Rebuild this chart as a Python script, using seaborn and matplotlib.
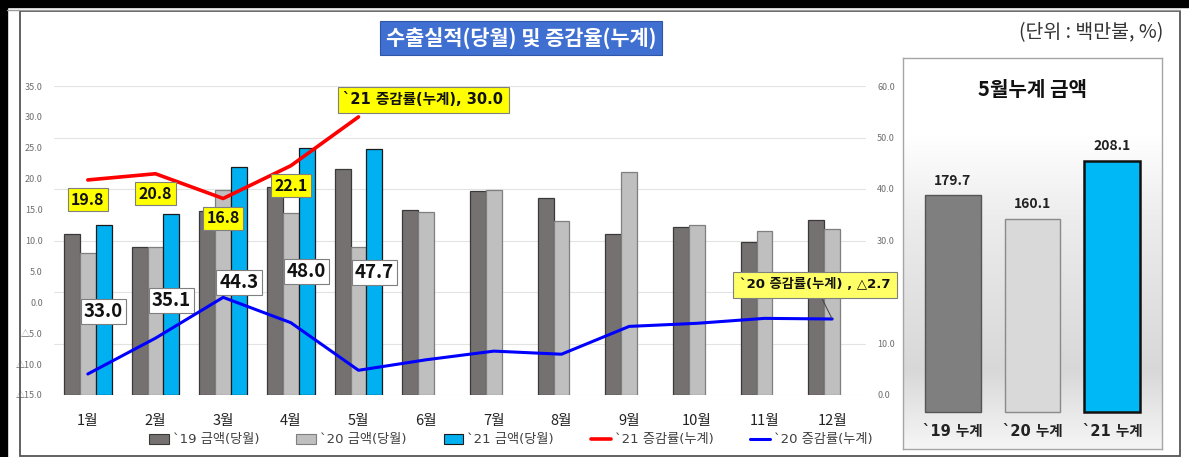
import numpy as np
import pandas as pd
import matplotlib
matplotlib.use("Agg")
import matplotlib.pyplot as plt
import seaborn as sns
from matplotlib.patches import Rectangle, Patch
from matplotlib.lines import Line2D
from matplotlib.colors import LinearSegmentedColormap

sns.set_style("white")
plt.rcParams['font.family'] = ['Noto Sans CJK KR', 'DejaVu Sans']
TICK_FONT = ['DejaVu Sans', 'Noto Sans CJK KR']   # narrow backtick for `19 / `20 / `21

# ---- data (백만불, %) ----
months = ['1월', '2월', '3월', '4월', '5월', '6월', '7월', '8월', '9월', '10월', '11월', '12월']
amt_19 = [31.2, 28.7, 35.7, 40.3, 43.8, 36.0, 39.7, 38.3, 31.3, 32.7, 29.8, 34.0]
amt_20 = [27.6, 28.7, 39.8, 35.3, 28.7, 35.6, 39.8, 33.7, 43.3, 33.1, 31.9, 32.3]
amt_21 = [33.0, 35.1, 44.3, 48.0, 47.7]
rate_21 = [19.8, 20.8, 16.8, 22.1, 30.0]
rate_20 = [-11.6, -5.8, 0.8, -3.3, -11.0, -9.3, -7.9, -8.4, -3.9, -3.4, -2.6, -2.7]

sum_labels = ['`19 누계', '`20 누계', '`21 누계']
sum_values = [179.7, 160.1, 208.1]

series = ['`19 금액(당월)', '`20 금액(당월)', '`21 금액(당월)']
bar_colors = ['#767171', '#BFBFBF', '#00B0F0']
bar_edges = ['#3A3A3A', '#7F7F7F', '#1A1A1A']

rows = []
for name, vals in zip(series, [amt_19, amt_20, amt_21]):
    for m, v in zip(months, vals):
        rows.append({'month': m, 'series': name, 'value': v})
df = pd.DataFrame(rows)

W, H = 1189, 457
fig = plt.figure(figsize=(W / 100, H / 100), dpi=100)

def fx(px):
    return px / W

def fy(py):
    return 1 - py / H

# ---- frame decorations ----
fig.patches.append(Rectangle((0, fy(7)), 1, 7 / H, transform=fig.transFigure, color='black', zorder=0))
fig.patches.append(Rectangle((0, 0), fx(7), 1, transform=fig.transFigure, color='black', zorder=0))
fig.lines.append(Line2D([fx(7), fx(1180)], [fy(9.5), fy(9.5)], transform=fig.transFigure, color='#9A9A9A', lw=1))
fig.patches.append(Rectangle((fx(20), fy(456)), fx(1160), 445 / H, transform=fig.transFigure,
                             fill=False, edgecolor='#555555', lw=1.3, zorder=1))

# ---- main chart: bars on the right axis, rates on the left ----
ax = fig.add_axes([fx(54), fy(395), fx(812), (395 - 86) / H])
axl = ax.twinx()
sns.barplot(data=df, x='month', y='value', hue='series', order=months, hue_order=series,
            palette=bar_colors, saturation=1, width=0.7, gap=0, errorbar=None, ax=ax, legend=False,
            linewidth=0.9, zorder=2)
for cont, ec in zip(ax.containers, bar_edges):
    for bar in cont:
        bar.set_edgecolor(ec)

ax.set_xlim(-0.5, 11.5)
ax.set_ylim(0, 60)
rt = np.arange(0, 61, 10)
ax.set_yticks(rt)
ax.set_yticklabels([f"{t:.1f}" for t in rt], fontsize=6.5, color='#6E6E6E')
ax.yaxis.tick_right()
ax.yaxis.set_label_position('right')
ax.grid(axis='y', color='#E3E3E3', lw=0.8, zorder=0)
ax.set_axisbelow(True)
ax.set_xlabel('')
ax.set_ylabel('')
ax.tick_params(axis='x', length=0, pad=14, labelsize=10.5, labelcolor='#222222')
ax.tick_params(axis='y', length=0, pad=8)
for s in ax.spines.values():
    s.set_visible(False)

# white value boxes for `21 monthly amounts
box_y = [16.3, 18.3, 21.9, 23.9, 23.7]
bars21 = ax.containers[2]
for bar, v, yy in zip(bars21, amt_21, box_y):
    ax.text(bar.get_x() + bar.get_width() / 2, yy, f"{v:.1f}", ha='center', va='center',
            fontsize=13.5, fontweight='bold', color='#111111', zorder=6,
            bbox=dict(boxstyle='square,pad=0.16', fc='white', ec='#7F7F7F', lw=0.8))

xpos = np.arange(len(months))
sns.lineplot(x=xpos[:len(rate_21)], y=rate_21, color='#FF0000', lw=2.6, ax=axl, zorder=4)
sns.lineplot(x=xpos, y=rate_20, color='#0000FF', lw=2.2, ax=axl, zorder=4)
axl.set_ylim(-15, 35)
axl.set_xlim(-0.5, 11.5)
lt = np.arange(-15, 36, 5)
axl.set_yticks(lt)
axl.set_yticklabels([f"△{abs(t):.1f}" if t < 0 else f"{t:.1f}" for t in lt],
                    fontsize=6.5, color='#6E6E6E')
axl.yaxis.tick_left()
axl.yaxis.set_label_position('left')
axl.tick_params(axis='y', length=0, pad=8)
axl.set_ylabel('')
for s in axl.spines.values():
    s.set_visible(False)

for x, v in zip(xpos[:4], rate_21[:4]):
    axl.annotate(f"{v:.1f}", (x, v), xytext=(0, -20), textcoords='offset pixels',
                 ha='center', va='center', fontsize=11.5, fontweight='bold', color='#111111', zorder=7,
                 bbox=dict(boxstyle='square,pad=0.22', fc='#FFFF00', ec='#7F7F7F', lw=0.8))

axl.annotate(f"`21 증감률(누계), {rate_21[-1]:.1f}", (xpos[len(rate_21) - 1], rate_21[-1]),
             xytext=(65, 17), textcoords='offset pixels', ha='center', va='center',
             fontsize=10.5, fontweight='bold', color='#111111', zorder=7, family=TICK_FONT,
             bbox=dict(boxstyle='square,pad=0.35', fc='#FFFF00', ec='#7F7F7F', lw=0.8))

axl.annotate(f"`20 증감률(누계) , △{abs(rate_20[-1]):.1f}", (xpos[-1], rate_20[-1]),
             xytext=(-17, 34), textcoords='offset pixels', ha='center', va='center',
             fontsize=9.5, fontweight='bold', color='#111111', zorder=7, family=TICK_FONT,
             bbox=dict(boxstyle='square,pad=0.5', fc='#FFFF66', ec='#7F7F7F', lw=0.8),
             arrowprops=dict(arrowstyle='-', color='#404040', lw=0.7, shrinkA=0, shrinkB=0))

# legend
handles = [Patch(fc=c, ec=e, lw=0.8) for c, e in zip(bar_colors, bar_edges)]
handles += [Line2D([], [], color='#FF0000', lw=2.6), Line2D([], [], color='#0000FF', lw=2.2)]
labels = series + ['`21 증감률(누계)', '`20 증감률(누계)']
fig.legend(handles, labels, loc='center', bbox_to_anchor=(fx(511), fy(440)), ncol=5,
           frameon=False, prop=dict(family=TICK_FONT, size=9.5), handlelength=1.5,
           handleheight=0.7, handletextpad=0.3, columnspacing=2.8, labelcolor='#404040')

# title & unit
fig.text(fx(521), fy(38), "수출실적(당월) 및 증감율(누계)", ha='center', va='center',
         fontsize=15, fontweight='bold', color='white',
         bbox=dict(boxstyle='square,pad=0.28', fc='#3F6FD0', ec='#2F55A8', lw=0.8))
fig.text(fx(1163), fy(33), "(단위 : 백만불, %)", ha='right', va='center', fontsize=14, color='#333333')

# ---- right summary panel ----
axp = fig.add_axes([fx(903), fy(449), fx(259), (449 - 58) / H])
xl, yl = (-0.62, 2.62), (-30.6, 293)
cmap = LinearSegmentedColormap.from_list('g', ['#FFFFFF', '#FFFFFF', '#EDEDED', '#E2E2E2', '#D8D8D8', '#F6F6F6'])
grad = np.linspace(0, 1, 256).reshape(-1, 1)
axp.imshow(grad, extent=[xl[0], xl[1], yl[0], yl[1]], origin='upper', aspect='auto', cmap=cmap, zorder=0)
sns.barplot(x=sum_labels, y=sum_values, hue=sum_labels, palette=['#7F7F7F', '#D9D9D9', '#00B8F5'],
            saturation=1, width=0.7, errorbar=None, legend=False, ax=axp, zorder=2)
axp.set_xlim(*xl)
axp.set_ylim(*yl)
for i, (cont, ec, lw) in enumerate(zip(axp.containers, ['#555555', '#8A8A8A', '#111111'], [1.0, 1.0, 1.8])):
    for bar in cont:
        bar.set_edgecolor(ec)
        bar.set_linewidth(lw)
        cx = bar.get_x() + bar.get_width() / 2
        axp.text(cx, bar.get_height() + 6, f"{bar.get_height():.1f}",
                 ha='center', va='bottom', fontsize=10, fontweight='bold', color='#222222')
        axp.text(cx, -16.5, sum_labels[i], ha='center', va='center', family=TICK_FONT,
                 fontsize=10.5, fontweight='bold', color='#222222')
axp.set_xticks([])
axp.set_yticks([])
axp.set_xlabel('')
axp.set_ylabel('')
axp.text(0.5, 0.92, "5월누계 금액", transform=axp.transAxes, ha='center', va='center',
         fontsize=14.5, fontweight='bold', color='#111111')
for s in axp.spines.values():
    s.set_color('#A6A6A6')
    s.set_linewidth(1)

fig.savefig("out.png", dpi=100)
